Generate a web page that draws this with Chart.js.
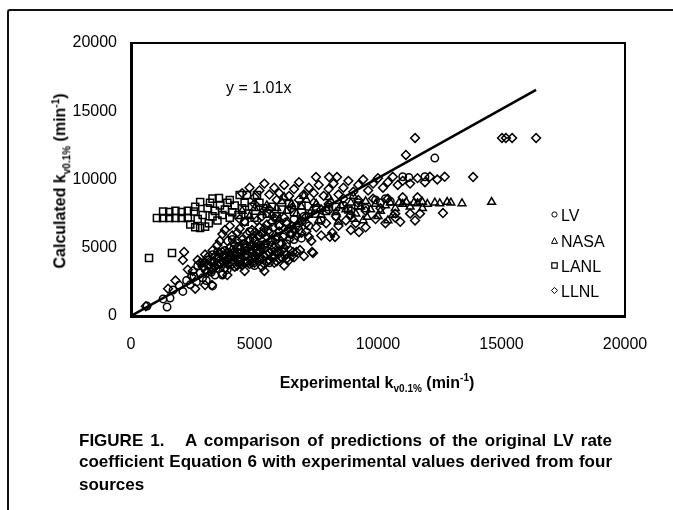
<!DOCTYPE html>
<html>
<head>
<meta charset="utf-8">
<script src="https://cdn.jsdelivr.net/npm/chart.js@4.4.0/dist/chart.umd.min.js"></script>
<style>
body { margin: 0; background: #fff; }
#wrap { position: relative; width: 673px; height: 510px; overflow: hidden; font-family: "Liberation Sans", Arial, sans-serif; color: #000; }
#frame { position: absolute; left: 7px; top: 9px; width: 700px; height: 600px; border-left: 2px solid #111; border-top: 2px solid #111; border-top-left-radius: 3px; }
canvas { position: absolute; left: 0; top: 0; }
.lbl { position: absolute; white-space: nowrap; }
.axt { font-weight: bold; font-size: 16px; }
.axt sub, .axt sup { font-size: 10px; }
.leg { position: absolute; font-size: 16px; line-height: 16px; white-space: nowrap; }
.leg svg { vertical-align: middle; margin-right: 3px; position: relative; top: -2px; }
.cap { position: absolute; left: 79px; width: 533px; font-weight: bold; font-size: 17px; white-space: nowrap; }
.just { text-align: justify; text-align-last: justify; }
</style>
</head>
<body>
<div id="wrap">
  <div id="frame"></div>
  <canvas id="chart" width="673" height="510"></canvas>
  <div class="lbl" style="left:226px; top:79px; font-size:16px;">y = 1.01x</div>
  <div class="lbl axt" style="left:377px; top:383px; transform:translate(-50%,-50%);">Experimental k<sub>v0.1%</sub> (min<sup>-1</sup>)</div>
  <div class="lbl axt" style="left:61px; top:181px; transform:translate(-50%,-50%) rotate(-90deg);">Calculated k<sub>v0.1%</sub> (min<sup>-1</sup>)</div>
  <div id="legend"></div>
  <div class="cap just" style="top:431px;">FIGURE 1.&nbsp;&nbsp; A comparison of predictions of the original LV rate</div>
  <div class="cap just" style="top:452px;">coefficient Equation 6 with experimental values derived from four</div>
  <div class="cap" style="top:475px;">sources</div>
</div>
<script>
const tickValues = [0, 5000, 10000, 15000, 20000];
const seriesNames = ["LV", "NASA", "LANL", "LLNL"];

// y = 1.01x trend line, end points
const fitLine = [[0, 0], [16400, 16564]];

const lvPoints = [
  [650,730],[1460,660],[1300,1250],[1580,1320],[1700,1900],[1950,2250],[2100,1800],[2250,2600],[2400,2300],
  [2550,2900],[2650,2500],[2800,3150],[2900,2800],[3000,3400],[3050,2600],[3150,3700],[3250,3200],[3350,3900],
  [3450,3500],[3550,4200],[3650,3800],[3750,4400],[3850,4000],[3950,4650],[4050,4200],[4150,4900],[4250,4400],
  [4350,5100],[4450,4600],[4550,5300],[4650,4750],[4750,5500],[4850,4900],[4950,5700],[5050,5050],[5150,5900],
  [5250,5200],[5350,6100],[5450,5300],[5550,6300],[5650,5450],[5750,6500],[5850,5600],[6000,6700],[6150,5800],
  [6300,6900],[6450,6000],[6600,7100],[6800,6300],[7000,7300],[7200,6600],[7450,7500],[7700,7000],[8000,7800],
  [8300,7300],[8600,8100],[8900,7700],[9200,8300],[9500,7900],[9900,8500],[10100,8300],[10300,8600],[10500,8400],
  [11000,10200],[11250,10150],[11900,10200],[12300,11570],[3300,2200],[3700,3000],[4200,3600],[4700,3900],
  [5200,4200],[5800,4500],[6200,4700],[2700,3700],[3500,4700],[4100,5600],[4800,6200],
  [3100,4100],[3300,4500],[3800,4800],[4000,4500],[4300,4700],[4600,5000],[4900,5200],[5100,4800],[5400,5000],
  [5700,5200],[6000,5300],[6300,5300],[6600,5600],[6900,5700],[3400,3000],[3900,3400],[4400,3800],[5000,3700],
  [5600,3900],[2900,3900]
];

const nasaPoints = [
  [5300,7600],[5500,8100],[5700,7400],[5900,7900],[6100,8400],[6300,7700],[6500,8200],[6700,7500],[6900,8000],
  [7100,8500],[7300,7700],[7500,8200],[7700,7400],[7900,7900],[8100,8400],[8300,7600],[8500,8100],[8700,7800],
  [8900,8300],[9100,7500],[9300,8000],[9500,8400],[9560,7250],[9700,7800],[9900,8200],[10100,7700],[10300,8100],
  [10500,8300],[10700,7900],[10850,8300],[11000,8200],[11150,8350],[11300,8000],[11450,8300],[11600,8250],
  [11800,8350],[12000,8200],[12300,8300],[12500,8250],[12800,8350],[12950,8300],[13400,8250],[14600,8350],
  [6000,7100],[6800,6900],[7600,7000],[8400,6900],[9000,7100],[10000,7300],[10600,7400],[7000,8800],[8000,8700],
  [9000,8800],[6200,8700],[4800,7300],[5000,7900],[4500,7700],[9400,7000],[11800,7900],[10400,7000]
];

const lanlPoints = [
  [730,4250],[1660,4620],
  [1050,7180],[1300,7180],[1550,7180],[1800,7180],[2050,7180],[2300,7180],
  [1300,7650],[1550,7620],[1800,7700],[2050,7620],[2300,7700],[2550,7650],
  [2400,6700],[2600,6500],[2800,6450],[3000,6550],[3150,6800],
  [2600,8000],[2800,8350],[2900,7400],[3100,7900],[3200,8300],[3300,7300],[3400,7700],[3560,8640],[3600,8100],
  [3700,7400],[3800,7800],[3900,8300],[4000,7200],[4100,7600],[4200,8100],[4400,8860],[4350,7400],[4500,7900],
  [4600,8300],[4700,8860],[4750,7500],[4900,8000],[5100,8860],[5000,7200],[5200,8300],[5350,7900],[5500,7500],
  [5700,8000],[5900,7300],[6100,7800],[6400,8200],[6600,7600],[6900,8100],[7200,7500],[7500,7900],[7900,7700],
  [8300,8000],[8800,7800],[9200,8100],[3500,7000],[2700,7100],[4600,6900],[3300,8600],[4000,8500]
];

const llnlPoints = [
  [15020,13040],[15180,13040],[15430,13040],[16400,13040],[11500,13040],[11130,11800],[13850,10180],[12630,7540],
  [9230,6150],[7490,10180],[8020,10180],[8340,10180],
  [4500,9000],[4800,9400],[5000,8700],[5200,9200],[5400,9700],[5600,8900],[5800,9400],[6000,9000],[6200,9600],
  [6400,8800],[6600,9300],[6800,9800],[7000,8900],[7200,9400],[7400,9000],[7600,9600],[7800,8800],[8000,9300],
  [8200,9700],[8400,8900],[8600,9400],[8800,9900],[9000,9100],[9200,9600],[9400,10000],[9600,9200],[9800,9700],
  [10000,10100],[10200,9400],[10400,9800],[10600,10200],[10800,9600],[11000,9900],[11300,9700],[11600,10100],
  [11900,9800],[12100,10200],[12400,10000],[12700,10200],
  [5000,8200],[5300,7300],[5600,7800],[5900,8500],[6200,7200],[6500,7900],[6800,8500],[7100,7300],[7400,8300],
  [7700,7800],[8000,8200],[8300,7300],[8600,8600],[8900,7400],[9200,8500],[9500,7700],[9800,8600],[10100,7900],
  [10400,8600],[10700,7500],[11000,8700],[11300,7500],[11600,8700],[10900,6900],[11700,7500],
  [6500,6600],[6700,5900],[6900,6900],[7100,6200],[7300,5500],[7330,4690],[7370,4620],[7500,6500],[7700,5900],
  [7900,6800],[8050,5800],[8150,6100],[8260,5790],[8400,6600],[8700,7000],[8900,6300],[9100,6800],[9500,6500],
  [9900,7100],[10300,6800],[10700,7200],[11500,7000],[6560,4690],[6840,4830],
  [3500,5200],[3700,6000],[3900,5500],[4000,6600],[4200,5200],[4300,6100],[4500,5600],[4600,6900],[4700,5100],
  [4900,6300],[5000,5500],[5100,7000],[5300,6000],[5400,5200],[5500,6700],[5700,5600],[5800,7200],[6000,6200],
  [6100,5300],[6300,6800],[6400,5600],[6600,6300],[5200,6500],[4400,7100],
  [2500,3300],[2700,4100],[2900,3600],[3000,4500],[3100,3200],[3200,4000],[3300,4800],[3400,3600],[3500,4300],
  [3600,3900],[3700,4700],[3800,3500],[3900,4200],[4000,5000],[4100,3800],[4200,4500],[4300,4100],[4400,4900],
  [4500,3700],[4600,4400],[4700,4000],[4800,4700],[4900,4200],[5000,3900],[5100,4600],[5200,4300],[5300,5000],
  [5400,3800],[5500,4500],[5600,4100],[5700,4800],[5800,4300],[5900,4000],[6000,4600],[6100,4300],[6200,5000],
  [6300,4500],[6450,4800],[6600,4300],[3400,4400],[3900,3800],[4400,4300],[4900,4600],[5400,4400],[5900,4700],
  [3000,3900],[3600,4600],[4200,3600],[4800,3800],[5300,3600],[5800,3900],[6400,4100],[3700,3100],
  [2100,4100],[2150,4690],[3000,2270],[3280,2270],[3900,3000],[2450,2900],[2300,3400],[1800,2600],[1500,2000],
  [2600,2000],[4600,3300],[5400,3300],[6200,3700],[7000,4400],[600,720],
  [2800,3900],[3100,4300],[3300,3400],[3500,3800],[3700,4000],[3800,4500],[4000,4300],[4100,4600],[4300,3700],
  [4400,4000],[4500,4700],[4600,3900],[4700,4500],[4900,3900],[5000,4300],[5100,4100],[5200,4800],[5300,4200],
  [5500,4000],[5600,4600],[5700,4300],[5800,5000],[6000,4200],[6100,4800],[6300,4200],[6500,4400],[6700,4700],
  [3600,5500],[3800,6300],[4100,5900],[4300,5500],[4400,6400],[4600,5300],[4700,6000],[4800,5600],[5000,6100],
  [5100,5300],[5200,5900],[5400,6400],[5500,5800],[5600,6100],[5700,6900],[5900,5800],[6000,6600],[6200,5900],
  [6400,6400],[6500,6000],[6700,6600],[6900,6100],[7100,6800],[7200,5800]
];

const toXY = arr => arr.map(p => ({ x: p[0], y: p[1] }));

const markerStyles = ["circle", "triangle", "rect", "rectRot"];
const markerRadius = [3.7, 4.5, 5, 4.4];
const seriesData = [lvPoints, nasaPoints, lanlPoints, llnlPoints];

// legend (drawn in html so the names stay real text)
const legendSvg = [
  '<svg width="7" height="7"><circle cx="3.5" cy="3.5" r="2.6" fill="none" stroke="#000" stroke-width="1"/></svg>',
  '<svg width="7" height="7"><polygon points="3.5,0.6 6.5,6.4 0.5,6.4" fill="none" stroke="#000" stroke-width="1"/></svg>',
  '<svg width="7" height="7"><rect x="0.8" y="0.8" width="5.4" height="5.4" fill="none" stroke="#000" stroke-width="1.2"/></svg>',
  '<svg width="7" height="7"><polygon points="3.5,0.4 6.6,3.5 3.5,6.6 0.4,3.5" fill="none" stroke="#000" stroke-width="1"/></svg>'
];
const legendTops = [208, 234, 259, 284];
const legendEl = document.getElementById("legend");
seriesNames.forEach((name, i) => {
  legendEl.innerHTML += `<div class="leg" style="left:551px; top:${legendTops[i]}px;">${legendSvg[i]}${name}</div>`;
});

const framePlugin = {
  id: "plotFrame",
  afterDraw(chart) {
    const a = chart.chartArea;
    const ctx = chart.ctx;
    ctx.save();
    ctx.strokeStyle = "#000";
    ctx.lineWidth = 2;
    ctx.strokeRect(a.left, a.top, a.right - a.left, a.bottom - a.top);
    ctx.restore();
  }
};

const datasets = [{
  label: "fit",
  type: "line",
  data: toXY(fitLine),
  borderColor: "#000",
  borderWidth: 2.5,
  pointRadius: 0,
  fill: false
}];
seriesNames.forEach((name, i) => {
  datasets.push({
    label: name,
    data: toXY(seriesData[i]),
    pointStyle: markerStyles[i],
    pointRadius: markerRadius[i],
    pointBorderWidth: 1.5,
    borderColor: "#000",
    backgroundColor: "rgba(0,0,0,0)"
  });
});

const tickFont = { family: "Liberation Sans", size: 16 };

new Chart(document.getElementById("chart").getContext("2d"), {
  type: "scatter",
  data: { datasets: datasets },
  options: {
    responsive: false,
    animation: false,
    devicePixelRatio: 1,
    layout: { padding: { left: 0, top: 43, right: 48, bottom: 0 } },
    plugins: { legend: { display: false }, tooltip: { enabled: false } },
    scales: {
      x: {
        type: "linear", min: 0, max: 20000,
        afterBuildTicks: s => { s.ticks = tickValues.map(v => ({ value: v })); },
        afterFit: s => { s.height = 194; },
        grid: { display: false },
        border: { display: true, color: "#000", width: 3 },
        ticks: { color: "#000", padding: 11, maxRotation: 0, font: tickFont, callback: v => String(v) }
      },
      y: {
        type: "linear", min: 0, max: 20000,
        afterBuildTicks: s => { s.ticks = tickValues.map(v => ({ value: v })); },
        afterFit: s => { s.width = 131; },
        grid: { display: false },
        border: { display: true, color: "#000", width: 3 },
        ticks: { color: "#000", padding: 6, font: tickFont, callback: v => String(v) }
      }
    }
  },
  plugins: [framePlugin]
});
</script>
</body>
</html>
